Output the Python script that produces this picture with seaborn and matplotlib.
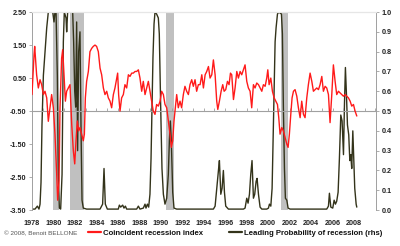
import numpy as np
import pandas as pd
import matplotlib
matplotlib.use("Agg")
import matplotlib.pyplot as plt
import seaborn as sns
from matplotlib.lines import Line2D
from matplotlib.ticker import FormatStrFormatter

# ---------------- data ----------------
coinc_years = [1978.00, 1978.19, 1978.25, 1978.43, 1978.59, 1978.75, 1978.90, 1979.06, 1979.21, 1979.37,
               1979.52, 1979.68, 1979.83, 1979.99, 1980.14, 1980.30, 1980.39, 1980.52, 1980.61, 1980.76,
               1980.86, 1980.98, 1981.11, 1981.23, 1981.39, 1981.54, 1981.70, 1981.85, 1981.98, 1982.10,
               1982.22, 1982.35, 1982.47, 1982.63, 1982.78, 1982.88, 1982.97, 1983.09, 1983.25, 1983.40,
               1983.56, 1983.71, 1983.87, 1984.02, 1984.18, 1984.34, 1984.49, 1984.65, 1984.80, 1984.96,
               1985.11, 1985.27, 1985.42, 1985.58, 1985.73, 1985.89, 1985.98, 1986.07, 1986.20, 1986.35,
               1986.51, 1986.66, 1986.82, 1986.98, 1987.13, 1987.29, 1987.44, 1987.60, 1987.75, 1987.91,
               1988.06, 1988.22, 1988.37, 1988.53, 1988.68, 1988.84, 1988.99, 1989.15, 1989.30, 1989.46,
               1989.61, 1989.77, 1989.93, 1990.08, 1990.24, 1990.39, 1990.55, 1990.70, 1990.86, 1990.98,
               1991.11, 1991.23, 1991.36, 1991.48, 1991.63, 1991.79, 1991.94, 1992.10, 1992.25, 1992.41,
               1992.57, 1992.72, 1992.88, 1993.03, 1993.19, 1993.34, 1993.50,
               1993.66, 1993.82, 1993.97, 1994.13, 1994.28, 1994.44, 1994.59, 1994.75, 1994.90, 1995.06,
               1995.21, 1995.31, 1995.46, 1995.62, 1995.77, 1995.90, 1996.05, 1996.21, 1996.36, 1996.49,
               1996.61, 1996.77, 1996.92, 1997.08, 1997.23, 1997.39, 1997.54, 1997.70, 1997.85, 1998.01,
               1998.16, 1998.32, 1998.47, 1998.63, 1998.78, 1998.94, 1999.10, 1999.25, 1999.41, 1999.56,
               1999.72, 1999.87, 1999.97, 2000.09, 2000.25, 2000.40, 2000.56, 2000.71, 2000.87, 2000.99,
               2001.11, 2001.27, 2001.42, 2001.58, 2001.74, 2001.86, 2001.98, 2002.11, 2002.23, 2002.36,
               2002.51, 2002.67, 2002.82, 2002.98, 2003.13, 2003.29, 2003.44, 2003.60, 2003.75, 2003.91,
               2004.07, 2004.22, 2004.38, 2004.53, 2004.69, 2004.84, 2005.00, 2005.15, 2005.31, 2005.46,
               2005.62, 2005.77, 2005.93, 2006.08, 2006.24, 2006.39, 2006.55, 2006.70, 2006.86, 2007.02,
               2007.17, 2007.33, 2007.48, 2007.64, 2007.79, 2007.95, 2008.10, 2008.26]
coinc_values = [0.00, 1.21, 1.46, 0.60, 0.20, 0.45, 0.30, 0.00, 0.10, -0.10,
                -0.81, -0.40, 0.00, -0.40, -1.20, -2.40, -3.20, -2.60, -0.40, 1.10,
                1.36, 0.60, -0.20, 0.10, 0.20, 0.30, -0.90, -1.70, -2.10, -1.40,
                -0.80, -1.10, -1.00, -1.20, -1.40, -1.20, -0.10, 0.40, 0.70, 1.30,
                1.40, 1.46, 1.50, 1.46, 1.30, 0.80, 0.60, 0.20, 0.00, 0.10,
                -0.10, -0.20, -0.40, 0.00, 0.20, 0.50, 0.65, 0.00, -0.50, -0.10,
                0.00, 0.30, 0.20, 0.60, 0.55, 0.65, 0.65, 0.70, 0.70, 0.75,
                0.50, 0.10, 0.40, 0.00, 0.20, 0.40, 0.10, -0.20, -0.50, -0.60,
                -0.30, -0.35, -0.20, 0.10, 0.00, -0.30, -0.40, -0.80, -1.20, -1.60,
                -1.40, -0.80, -0.40, 0.00, -0.40, -0.20, -0.40, 0.00, 0.25, 0.10,
                0.00, 0.30, 0.45, 0.25, 0.45, 0.10, 0.30,
                0.30, 0.60, 0.20, 0.60, 0.70, 0.85, 0.50, 0.60, 1.05, 0.60,
                -0.20, -0.45, -0.20, 0.10, 0.30, 0.10, 0.15, 0.40, 0.30, 0.65,
                0.60, -0.15, 0.20, 0.70, 0.50, 0.70, 0.60, 0.75, 0.90, 0.40,
                0.20, 0.10, -0.40, 0.30, 0.20, 0.35, 0.30, 0.20, 0.10, 0.30,
                0.25, 0.50, 0.75, 0.30, 0.50, 0.10, -0.10, -0.20, -0.30, -0.70,
                -1.20, -1.00, -1.10, -1.30, -1.50, -1.60, -1.20, -0.60, -0.10, 0.10,
                0.15, -0.05, -0.40, -0.70, -0.20, -0.60, -0.70, -0.10, 0.30, 0.65,
                0.40, 0.10, 0.15, 0.20, 0.15, 0.30, 0.55, 0.10, 0.25, 0.20,
                0.00, -0.85, 0.00, 0.90, 0.40, 0.00, 0.10, 0.05, 0.00, -0.05,
                0.00, -0.05, -0.10, -0.20, -0.35, -0.30, -0.50, -0.65]

lead_years = [1978.00, 1978.28, 1978.50, 1978.65, 1978.75, 1978.84, 1978.93, 1979.06, 1979.21, 1979.37,
              1979.52, 1979.74, 1979.93, 1980.05, 1980.14, 1980.24, 1980.36, 1980.45, 1980.55, 1980.67,
              1980.80, 1980.92, 1981.01, 1981.17, 1981.23, 1981.32, 1981.54, 1981.79, 1981.88, 1981.98,
              1982.07, 1982.16, 1982.25, 1982.35, 1982.47, 1982.57, 1982.66, 1982.78, 1983.09, 1983.71,
              1984.34, 1984.58, 1984.71, 1984.83, 1985.02, 1985.58, 1986.04, 1986.14, 1986.26, 1986.45,
              1986.57, 1986.70, 1986.82, 1987.29, 1987.75, 1987.91, 1988.06, 1988.37, 1988.53, 1988.62,
              1988.75, 1988.87, 1988.99, 1989.09, 1989.18, 1989.27, 1989.37, 1989.46, 1989.61, 1989.77,
              1989.86, 1989.99, 1990.11, 1990.24, 1990.39, 1990.55, 1990.70, 1990.80, 1990.89, 1990.98,
              1991.11, 1991.23, 1991.48, 1992.41, 1993.34,
              1994.28, 1994.90, 1995.06, 1995.21, 1995.37, 1995.46, 1995.59, 1995.71, 1995.83, 1995.93,
              1996.05, 1996.30, 1997.08, 1997.70, 1997.85, 1998.01, 1998.13, 1998.26, 1998.38, 1998.50,
              1998.63, 1998.75, 1998.88, 1998.97, 1999.10, 1999.25, 1999.41, 1999.87, 2000.03, 2000.12,
              2000.25, 2000.37, 2000.46, 2000.56, 2000.65, 2000.74, 2000.87, 2000.99, 2001.11, 2001.24,
              2001.33, 2001.42, 2001.52, 2001.61, 2001.74, 2001.86, 2002.05, 2002.98, 2004.22, 2005.46,
              2005.62, 2005.71, 2005.84, 2006.02, 2006.15, 2006.27, 2006.39, 2006.52, 2006.64, 2006.77,
              2006.89, 2007.02, 2007.11, 2007.20, 2007.30, 2007.39, 2007.51, 2007.61, 2007.70, 2007.79,
              2007.89, 2007.98, 2008.07, 2008.20, 2008.26]
lead_values = [0.005, 0.005, 0.02, 0.005, 0.03, 0.14, 0.43, 0.68, 0.80, 0.92,
               1.0, 1.0, 1.0, 0.95, 1.0, 1.0, 0.68, 0.18, 0.01, 0.005,
               0.18, 0.85, 1.0, 0.97, 0.90, 1.0, 1.0, 1.0, 0.85, 0.60,
               0.52, 0.95, 0.30, 0.80, 0.90, 0.40, 0.05, 0.01, 0.005, 0.005,
               0.005, 0.03, 0.21, 0.03, 0.005, 0.005, 0.005, 0.025, 0.015, 0.025,
               0.01, 0.02, 0.005, 0.005, 0.005, 0.02, 0.005, 0.01, 0.03, 0.01,
               0.03, 0.015, 0.08, 0.26, 0.52, 0.77, 0.94, 1.0, 0.99, 0.97,
               0.89, 0.52, 0.21, 0.08, 0.03, 0.06, 0.18, 0.35, 0.45, 0.35,
               0.09, 0.01, 0.005, 0.005, 0.005,
               0.005, 0.005, 0.02, 0.11, 0.20, 0.25, 0.08, 0.11, 0.20, 0.09,
               0.02, 0.005, 0.005, 0.005, 0.01, 0.06, 0.035, 0.08, 0.18, 0.25,
               0.06, 0.08, 0.145, 0.16, 0.08, 0.015, 0.005, 0.005, 0.01, 0.03,
               0.02, 0.11, 0.35, 0.60, 0.85, 0.92, 0.99, 1.0, 0.995, 0.99,
               0.89, 0.52, 0.21, 0.06, 0.05, 0.01, 0.005, 0.005, 0.005, 0.005,
               0.02, 0.085, 0.015, 0.01, 0.05, 0.03, 0.045, 0.09, 0.26, 0.48,
               0.45, 0.28, 0.53, 0.72, 0.58, 0.43, 0.38, 0.25, 0.28, 0.21,
               0.40, 0.25, 0.11, 0.03, 0.015]

recession_starts = [1980.00, 1981.50, 1990.50, 2001.17]
recession_ends = [1980.55, 1982.88, 1991.22, 2001.88]

year_labels = [str(y) for y in range(1978, 2009, 2)]
left_ticks = [-3.5, -2.5, -1.5, -0.5, 0.5, 1.5, 2.5]
right_ticks = [0.0, 0.1, 0.2, 0.3, 0.4, 0.5, 0.6, 0.7, 0.8, 0.9, 1.0]

coinc_name = "Coincident recession index"
lead_name = "Leading Probability of recession (rhs)"
copyright_text = "\u00a9 2008, Benoit BELLONE"

# ---------------- style ----------------
sns.set_theme(style="white")
plt.rcParams['font.family'] = ['Liberation Sans', 'DejaVu Sans']

RED = "#ff1a1a"
OLIVE = "#33331a"
GRID = "#a0a0a0"

fig = plt.figure(figsize=(4.0, 2.46), dpi=100)
ax = fig.add_axes([0.08, 0.146, 0.86, 0.805])
ax2 = ax.twinx()

df_c = pd.DataFrame({"year": coinc_years, "value": coinc_values})
df_l = pd.DataFrame({"year": lead_years, "value": lead_values})

# recession bands under everything (drawn on the lower twin axes)
for s, e in zip(recession_starts, recession_ends):
    ax2.axvspan(s, e, color="#c0c0c0", lw=0, zorder=0)

sns.lineplot(data=df_l, x="year", y="value", ax=ax2, color=OLIVE, lw=1.0, zorder=3)
sns.lineplot(data=df_c, x="year", y="value", ax=ax, color=RED, lw=1.0, zorder=3)

ax.set_xlim(1978.0, 2010.05)
ax.set_ylim(-3.5, 2.5)
ax2.set_ylim(0.0, 1.0)
ax.set_xlabel("")
ax.set_ylabel("")
ax2.set_ylabel("")

# red line on top of the olive one
ax.set_zorder(ax2.get_zorder() + 1)
ax.patch.set_visible(False)

ax.set_yticks(left_ticks)
ax.yaxis.set_major_formatter(FormatStrFormatter('%.2f'))
ax2.set_yticks(right_ticks)
ax2.yaxis.set_major_formatter(FormatStrFormatter('%.1f'))

ax.set_xticks([int(y) for y in year_labels])
ax.set_xticklabels(year_labels)

ax.tick_params(axis='x', length=0, pad=7, labelsize=5.2)
ax.tick_params(axis='y', length=2, width=0.6, color=GRID, pad=2, labelsize=5.2, left=True)
ax2.tick_params(axis='y', length=2, width=0.6, color=GRID, pad=2, labelsize=5.2, right=True)
for lab in ax.get_xticklabels() + ax.get_yticklabels() + ax2.get_yticklabels():
    lab.set_fontweight('bold')
    lab.set_color('#222222')

for a in (ax, ax2):
    a.spines['bottom'].set_visible(False)
    a.spines['top'].set_visible(True)
    a.spines['top'].set_color('#e6e6e6')
    a.spines['top'].set_linewidth(0.8)
    a.spines['left'].set_color(GRID)
    a.spines['right'].set_color(GRID)
    a.spines['left'].set_linewidth(0.7)
    a.spines['right'].set_linewidth(0.7)
ax.spines['right'].set_visible(False)
ax2.spines['left'].set_visible(False)

# horizontal axis line at -0.50 with yearly ticks
sec = ax.secondary_xaxis(0.5)
sec.set_xticks(list(range(1978, 2011)))
sec.tick_params(axis='x', length=2, width=0.6, color=GRID, labelbottom=False, labeltop=False)
for sp in sec.spines.values():
    sp.set_color(GRID)
    sp.set_linewidth(0.8)

ax.grid(False)
ax2.grid(False)

# legend
handles = [Line2D([], [], color=RED, lw=1.6), Line2D([], [], color=OLIVE, lw=1.6)]
leg = fig.legend(handles, [coinc_name, lead_name], loc='center', bbox_to_anchor=(0.588, 0.052),
                 ncol=2, frameon=False, fontsize=5.6, handlelength=1.7, handletextpad=0.2,
                 columnspacing=3.4, borderaxespad=0)
for t in leg.get_texts():
    t.set_fontweight('bold')
    t.set_color('#111111')

fig.text(0.01, 0.052, copyright_text, fontsize=4.6, color='#555555', va='center', ha='left')

fig.savefig("out.png", dpi=100)
